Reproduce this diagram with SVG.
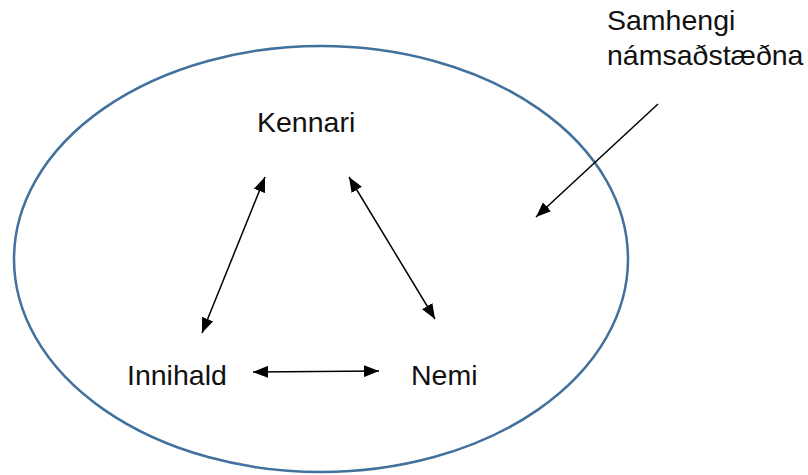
<svg xmlns="http://www.w3.org/2000/svg" width="808" height="475" viewBox="0 0 808 475">
  <style>
    .lbl { font-family: "Liberation Sans", Arial, sans-serif; font-size: 28.5px; fill: #111; }
    .conn { stroke: #000; stroke-width: 1.5; fill: none; }
  </style>
  <defs>
    <marker id="ah" viewBox="0 0 15 12" refX="15" refY="6" markerWidth="15" markerHeight="12" markerUnits="userSpaceOnUse" orient="auto-start-reverse">
      <path d="M0,0 L15,6 L0,12 z" fill="#000"/>
    </marker>
  </defs>
  <rect width="808" height="475" fill="#fff"/>
  <g id="context">
    <ellipse cx="321" cy="259" rx="307" ry="213" fill="none" stroke="#41719c" stroke-width="2.5"/>
  </g>
  <g id="kennari"><text class="lbl" x="257" y="132">Kennari</text></g>
  <g id="innihald"><text class="lbl" x="127" y="385">Innihald</text></g>
  <g id="nemi"><text class="lbl" x="411" y="385">Nemi</text></g>
  <g id="samhengi"><text class="lbl" x="607" y="30">Samhengi</text><text class="lbl" x="607" y="65">námsaðstæðna</text></g>
  <g id="connectors">
    <line class="conn" x1="265" y1="177" x2="202" y2="333" marker-start="url(#ah)" marker-end="url(#ah)"/>
    <line class="conn" x1="349" y1="177" x2="435" y2="319" marker-start="url(#ah)" marker-end="url(#ah)"/>
    <line class="conn" x1="253" y1="372" x2="379" y2="371" marker-start="url(#ah)" marker-end="url(#ah)"/>
    <line class="conn" x1="658" y1="104" x2="536" y2="217" marker-end="url(#ah)"/>
  </g>
</svg>
